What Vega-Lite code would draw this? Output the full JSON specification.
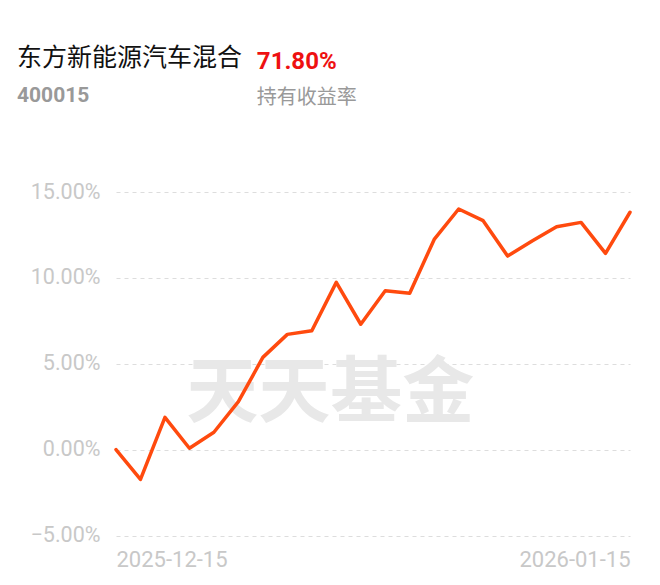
{
  "$schema": "https://vega.github.io/schema/vega-lite/v6.json",
  "autosize": "none",
  "width": 514,
  "height": 343.5,
  "padding": {"left": 116, "top": 192, "right": 30, "bottom": 49.5},
  "background": "#ffffff",
  "title": {
    "text": "东方新能源汽车混合",
    "subtitle": "400015",
    "anchor": "start",
    "frame": "group",
    "dx": -99,
    "offset": -56,
    "font": "Noto Sans CJK SC",
    "fontSize": 25,
    "fontWeight": "normal",
    "color": "#111111",
    "subtitleFont": "Roboto",
    "subtitleFontSize": 21,
    "subtitleFontWeight": "bold",
    "subtitleColor": "#999999",
    "subtitlePadding": 14
  },
  "datasets": {
    "series": [
      {"date": "2025-12-15", "rate": 0.00},
      {"date": "2025-12-16", "rate": -1.73},
      {"date": "2025-12-17", "rate": 1.88},
      {"date": "2025-12-18", "rate": 0.08},
      {"date": "2025-12-19", "rate": 1.01},
      {"date": "2025-12-22", "rate": 2.79},
      {"date": "2025-12-23", "rate": 5.37},
      {"date": "2025-12-24", "rate": 6.71},
      {"date": "2025-12-25", "rate": 6.92},
      {"date": "2025-12-26", "rate": 9.74},
      {"date": "2025-12-29", "rate": 7.30},
      {"date": "2025-12-30", "rate": 9.25},
      {"date": "2025-12-31", "rate": 9.10},
      {"date": "2026-01-05", "rate": 12.24},
      {"date": "2026-01-06", "rate": 14.01},
      {"date": "2026-01-07", "rate": 13.33},
      {"date": "2026-01-08", "rate": 11.27},
      {"date": "2026-01-09", "rate": 12.15},
      {"date": "2026-01-12", "rate": 12.98},
      {"date": "2026-01-13", "rate": 13.23},
      {"date": "2026-01-14", "rate": 11.43},
      {"date": "2026-01-15", "rate": 13.82}
    ]
  },
  "layer": [
    {
      "data": {"values": [{"label": "天天基金"}]},
      "mark": {
        "type": "text",
        "font": "Noto Sans CJK SC",
        "fontWeight": "bold",
        "fontSize": 72,
        "color": "#e8e8e8",
        "align": "center",
        "baseline": "middle",
        "dx": -6
      },
      "encoding": {
        "x": {"datum": "2025-12-26", "type": "ordinal"},
        "y": {"datum": 3.25, "type": "quantitative"},
        "text": {"field": "label", "type": "nominal"}
      }
    },
    {
      "data": {"name": "series"},
      "mark": {
        "type": "line",
        "color": "#ff4a0e",
        "strokeWidth": 3.5,
        "strokeCap": "round",
        "strokeJoin": "round"
      },
      "encoding": {
        "x": {
          "field": "date",
          "type": "ordinal",
          "sort": null,
          "scale": {
            "type": "point",
            "padding": 0,
            "domain": ["2025-12-15", "2025-12-16", "2025-12-17", "2025-12-18", "2025-12-19", "2025-12-22", "2025-12-23", "2025-12-24", "2025-12-25", "2025-12-26", "2025-12-29", "2025-12-30", "2025-12-31", "2026-01-05", "2026-01-06", "2026-01-07", "2026-01-08", "2026-01-09", "2026-01-12", "2026-01-13", "2026-01-14", "2026-01-15"]
          },
          "axis": {
            "title": null,
            "values": ["2025-12-15", "2026-01-15"],
            "labelAngle": 0,
            "labelFont": "Roboto",
            "labelFontSize": 22,
            "labelColor": "#c8c8c8",
            "labelPadding": 14,
            "labelAlign": {"condition": {"test": "datum.value == '2025-12-15'", "value": "left"}, "value": "right"},
            "labelBaseline": "top",
            "domain": false,
            "ticks": false,
            "tickSize": 0,
            "grid": false
          }
        },
        "y": {
          "field": "rate",
          "type": "quantitative",
          "scale": {"domain": [-5, 15], "nice": false, "zero": false},
          "axis": {
            "title": null,
            "values": [-5, 0, 5, 10, 15],
            "labelExpr": "format(datum.value, '.2f') + '%'",
            "labelFont": "Roboto",
            "labelFontSize": 21.5,
            "labelColor": "#c8c8c8",
            "labelPadding": 16,
            "domain": false,
            "ticks": false,
            "tickSize": 0,
            "grid": true,
            "gridColor": "#dddddd",
            "gridDash": [4, 4],
            "gridWidth": 1
          }
        }
      }
    },
    {
      "data": {"values": [{"label": "71.80%"}]},
      "mark": {
        "type": "text",
        "font": "Roboto",
        "fontWeight": "bold",
        "fontSize": 24,
        "color": "#ee1111",
        "align": "left",
        "baseline": "alphabetic",
        "dx": -6
      },
      "encoding": {
        "x": {"datum": "2025-12-23", "type": "ordinal"},
        "y": {"datum": 22.15, "type": "quantitative"},
        "text": {"field": "label", "type": "nominal"}
      }
    },
    {
      "data": {"values": [{"label": "持有收益率"}]},
      "mark": {
        "type": "text",
        "font": "Noto Sans CJK SC",
        "fontSize": 20,
        "color": "#999999",
        "align": "left",
        "baseline": "alphabetic",
        "dx": -6
      },
      "encoding": {
        "x": {"datum": "2025-12-23", "type": "ordinal"},
        "y": {"datum": 20.1, "type": "quantitative"},
        "text": {"field": "label", "type": "nominal"}
      }
    }
  ],
  "config": {"view": {"stroke": null}}
}
